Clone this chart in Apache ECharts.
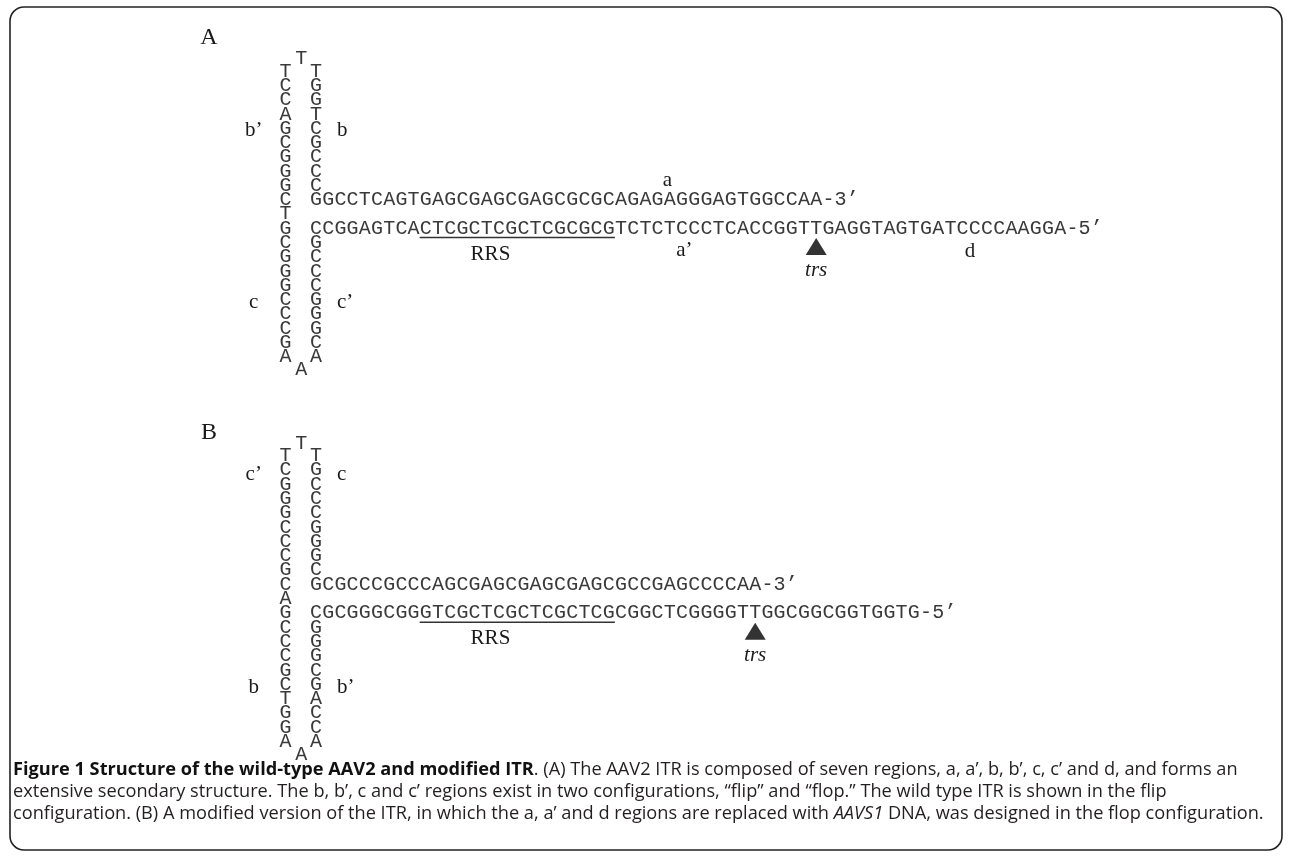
<!DOCTYPE html>
<html><head><meta charset="utf-8">
<script src="https://cdn.jsdelivr.net/npm/echarts@6/dist/echarts.min.js"></script>
<style>html,body{margin:0;padding:0;background:#fff}#chart{width:1290px;height:858px}</style>
</head><body><div id="chart"></div>
<script>
// ---------------- DATA ----------------
// Panel A (wild-type ITR, flip configuration)
const aLeftColumn   = 'TCCAGCGGGCTGCGGGCCCGA';   // stem, left strand, rows 1-21
const aRightUpper   = 'TGGTCGCCC';               // b arm, right strand, rows 1-9
const aRightLower   = 'GCCCGGGCA';               // c arm, right strand, rows 13-21
const aLoopTop      = 'T';
const aLoopBottom   = 'A';
const aTopStrand    = 'GGCCTCAGTGAGCGAGCGAGCGCGCAGAGAGGGAGTGGCCAA-3’';
const aBottomStrand = 'CCGGAGTCACTCGCTCGCTCGCGCGTCTCTCCCTCACCGGTTGAGGTAGTGATCCCCAAGGA-5’';
const aRRS          = [9, 24];   // first / last underlined base of bottom strand
const aTrs          = 41;        // base index of the trs nick marker
const aLabels       = ['b’', 'b', 'c', 'c’', 'a', 'a’', 'RRS', 'd', 'trs'];

// Panel B (modified ITR, flop configuration)
const bLeftColumn   = 'TCGGGCCCGCAGCCCGCTGGA';
const bRightUpper   = 'TGCCCGGGC';
const bRightLower   = 'GGGCGACCA';
const bLoopTop      = 'T';
const bLoopBottom   = 'A';
const bTopStrand    = 'GCGCCCGCCCAGCGAGCGAGCGAGCGCCGAGCCCCAA-3’';
const bBottomStrand = 'CGCGGGCGGGTCGCTCGCTCGCTCGCGGCTCGGGGTTGGCGGCGGTGGTG-5’';
const bRRS          = [9, 24];
const bTrs          = 36;
const bLabels       = ['c’', 'c', 'b', 'b’', 'RRS', 'trs'];

const panelTitles   = ['A', 'B'];
const captionLines  = [
  '{b|Figure 1 Structure of the wild-type AAV2 and modified ITR}. (A) The AAV2 ITR is composed of seven regions, a, a’, b, b’, c, c’ and d, and forms an',
  'extensive secondary structure. The b, b’, c and c’ regions exist in two configurations, “flip” and “flop.” The wild type ITR is shown in the flip',
  'configuration. (B) A modified version of the ITR, in which the a, a’ and d regions are replaced with {i|AAVS1} DNA, was designed in the flop configuration.'
];

// ---------------- LAYOUT ----------------
const CW = 12.2;           // px per base (x unit)
const RH = 14.3;           // px per stacked row (y unit)
const X0 = 316;            // pixel x of base column 0
const PANEL_Y0 = [56.5, 441.5]; // pixel y of row 0 per panel
const XMIN = -20, XMAX = 70, YMIN = -4, YMAX = 26;
const LEFT_X = -2.5, LOOP_X = -1.2;
const ROW_TOP = 10, ROW_BOTTOM = 12, ROW_LOWER_ARM = 13;
const LOOP_TOP_ROW = 0.12, LOOP_BOTTOM_ROW = 21.88;
const MONO = '20px "Courier New", "Liberation Mono", monospace';
const SERIF = '"Times New Roman", "Liberation Serif", serif';

// label anchors [x, row, align, italic]
const labelPosA = {
  'b’': [-5.1, 5.15, 'center'], 'b': [1.72, 5.15, 'left'],
  'c': [-5.1, 17.2, 'center'], 'c’': [1.72, 17.2, 'left'],
  'a': [28.8, 8.65, 'center'], 'a’': [30.2, 13.55, 'center'],
  'RRS': [14.3, 13.8, 'center'], 'd': [53.6, 13.6, 'center'],
  'trs': [aTrs, 14.95, 'center', true]
};
const labelPosB = {
  'c’': [-5.1, 2.3, 'center'], 'c': [1.72, 2.3, 'left'],
  'b': [-5.1, 17.2, 'center'], 'b’': [1.72, 17.2, 'left'],
  'RRS': [14.3, 13.8, 'center'], 'trs': [bTrs, 14.95, 'center', true]
};
const titlePos = [[-8.77, -1.36], [-8.77, -0.6]];

function basePoints(left, rUp, rLow, loopT, loopB, top, bottom) {
  const pts = [];
  for (let i = 0; i < left.length; i++) pts.push([LEFT_X, i + 1, left[i]]);
  for (let i = 0; i < rUp.length; i++) pts.push([0, i + 1, rUp[i]]);
  for (let i = 0; i < rLow.length; i++) pts.push([0, ROW_LOWER_ARM + i, rLow[i]]);
  pts.push([LOOP_X, LOOP_TOP_ROW, loopT]);
  pts.push([LOOP_X, LOOP_BOTTOM_ROW, loopB]);
  for (let i = 0; i < top.length; i++) pts.push([i, ROW_TOP, top[i]]);
  for (let i = 0; i < bottom.length; i++) pts.push([i, ROW_BOTTOM, bottom[i]]);
  return pts;
}

const panels = [
  { pts: basePoints(aLeftColumn, aRightUpper, aRightLower, aLoopTop, aLoopBottom, aTopStrand, aBottomStrand),
    rrs: aRRS, trs: aTrs, labels: aLabels, pos: labelPosA },
  { pts: basePoints(bLeftColumn, bRightUpper, bRightLower, bLoopTop, bLoopBottom, bTopStrand, bBottomStrand),
    rrs: bRRS, trs: bTrs, labels: bLabels, pos: labelPosB }
];

const grids = [], xAxes = [], yAxes = [], series = [];
panels.forEach((p, k) => {
  grids.push({ left: X0 + XMIN * CW, top: PANEL_Y0[k] + YMIN * RH,
               width: (XMAX - XMIN) * CW, height: (YMAX - YMIN) * RH, containLabel: false });
  xAxes.push({ gridIndex: k, type: 'value', min: XMIN, max: XMAX, show: false });
  yAxes.push({ gridIndex: k, type: 'value', min: YMIN, max: YMAX, inverse: true, show: false });

  // bases
  const pts = p.pts;
  series.push({
    type: 'custom', xAxisIndex: k, yAxisIndex: k, silent: true, animation: false,
    data: pts.map(d => [d[0], d[1]]),
    renderItem: (params, api) => {
      const d = pts[params.dataIndex];
      const c = api.coord([api.value(0), api.value(1)]);
      return { type: 'text', x: c[0], y: c[1],
        style: { text: d[2], font: MONO, fill: '#3a3a3a', align: 'center', verticalAlign: 'middle' } };
    }
  });
  // RRS underline
  series.push({
    type: 'line', xAxisIndex: k, yAxisIndex: k, silent: true, animation: false, symbol: 'none',
    data: [[p.rrs[0] - 0.5, ROW_BOTTOM + 0.64], [p.rrs[1] + 0.5, ROW_BOTTOM + 0.64]],
    lineStyle: { color: '#333', width: 1.6 }
  });
  // trs marker
  series.push({
    type: 'scatter', xAxisIndex: k, yAxisIndex: k, silent: true, animation: false,
    symbol: 'triangle', symbolSize: [21, 17],
    data: [[p.trs, ROW_BOTTOM + 1.27]], itemStyle: { color: '#000' }
  });
  // region labels
  const labs = p.labels.map(t => ({ t, a: p.pos[t] }));
  series.push({
    type: 'custom', xAxisIndex: k, yAxisIndex: k, silent: true, animation: false,
    data: labs.map(l => [l.a[0], l.a[1]]),
    renderItem: (params, api) => {
      const l = labs[params.dataIndex];
      const c = api.coord([api.value(0), api.value(1)]);
      return { type: 'text', x: c[0], y: c[1],
        style: { text: l.t, font: (l.a[3] ? 'italic ' : '') + '21px ' + SERIF, fill: '#1a1a1a',
                 align: l.a[2], verticalAlign: 'middle' } };
    }
  });
  // panel title
  series.push({
    type: 'custom', xAxisIndex: k, yAxisIndex: k, silent: true, animation: false,
    data: [titlePos[k]],
    renderItem: (params, api) => {
      const c = api.coord([api.value(0), api.value(1)]);
      return { type: 'text', x: c[0], y: c[1],
        style: { text: panelTitles[k], font: '24px ' + SERIF, fill: '#1a1a1a', align: 'center', verticalAlign: 'middle' } };
    }
  });
});

const CAP_FS = 18.2;
const captionStyle = (text) => ({
  text, fontSize: CAP_FS, fontFamily: '"Open Sans", sans-serif', fill: '#231f20',
  verticalAlign: 'middle',
  rich: {
    b: { fontSize: CAP_FS, fontFamily: '"Open Sans", sans-serif', fontWeight: 'bold', fill: '#111' },
    i: { fontSize: CAP_FS, fontFamily: '"Open Sans", sans-serif', fontStyle: 'italic', fill: '#231f20' }
  }
});

const chart = echarts.init(document.getElementById('chart'), null, { renderer: 'canvas' });
chart.setOption({
  animation: false,
  backgroundColor: '#fff',
  grid: grids, xAxis: xAxes, yAxis: yAxes, series,
  graphic: [
    { type: 'rect', silent: true, shape: { x: 10, y: 7, width: 1272, height: 843, r: 14 },
      style: { fill: 'none', stroke: '#222', lineWidth: 1.6 } },
    ...captionLines.map((t, i) => ({ type: 'text', silent: true, x: 13, y: 770 + i * 22, style: captionStyle(t) }))
  ]
});
</script></body></html>
